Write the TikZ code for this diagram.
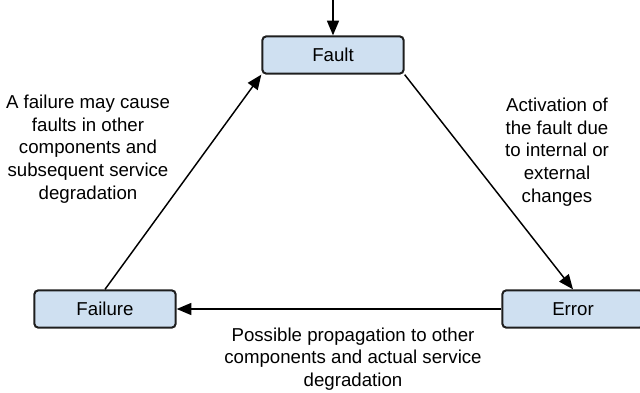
\documentclass[tikz,border=0pt]{standalone}
\usepackage{fontspec}
\setmainfont{Liberation Sans}
\usetikzlibrary{arrows.meta, positioning}
\definecolor{stagefill}{RGB}{207,224,241}
\definecolor{stageline}{RGB}{30,30,30}
\tikzset{
  faultchain/.style={
	x=0.75pt, y=-0.75pt, % one unit per pixel, y runs downwards
	every edge/.style={draw, ->}, % every edge is directed
	>={Triangle[length=11pt,width=9pt]}, % big filled heads
	line width=1.1pt,
	every stage/.style={draw=stageline, line width=1.5pt, fill=stagefill, rounded corners=3pt},
  },
  every stage/.style={},
  stage/.style={every stage, minimum width=106pt, minimum height=28pt, font=\fontsize{14}{17}\selectfont},
  note/.style={align=center, font=\fontsize{14}{17}\selectfont}, % the text beside each edge
}

\begin{document}
\begin{tikzpicture}[faultchain]
	  \useasboundingbox (0,0) rectangle (640,393);

	  \node[stage] (fault) at (333,55) {Fault};
	  \node[stage] (error) at (573,309) {Error};
	  \node[stage] (failure) at (105,309) {Failure};
	  \coordinate (top) at (333,0);

	  \node[note] (activation) at (557,152) {Activation of\\the fault due\\to internal or\\external\\changes};
	  \node[note] (propagation) at (353,359) {Possible propagation to other\\components and actual service\\degradation};
	  \node[note] (consequence) at (88,149) {A failure may cause\\faults in other\\components and\\subsequent service\\degradation};

	  \path   (top) edge (fault.north)
		  (fault.south east) edge (error.north)
		  (error.west) edge (failure.east)
		  (failure.north) edge (fault.south west)
	  ;
\end{tikzpicture}
\end{document}
